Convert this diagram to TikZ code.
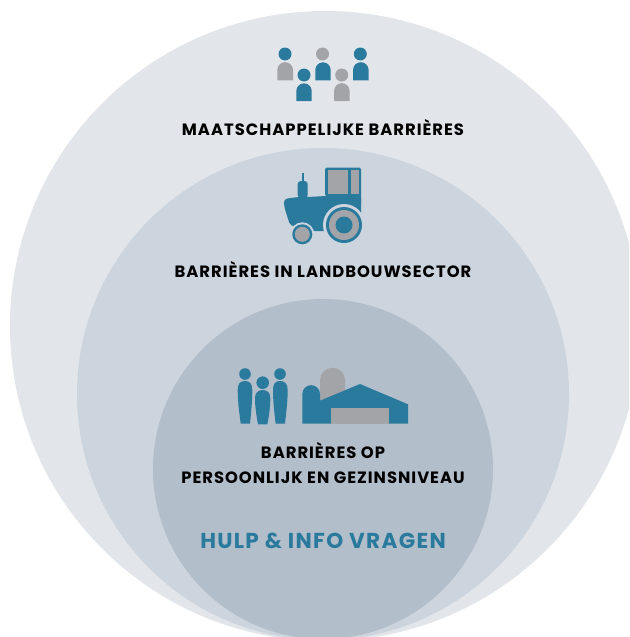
\documentclass[tikz,border=0pt]{standalone}
\usepackage{fontspec}
\setmainfont{Poppins}[LetterSpace=6]
\definecolor{outerc}{HTML}{E2E6EB}
\definecolor{middlec}{HTML}{CCD4DD}
\definecolor{innerc}{HTML}{B3BECB}
\definecolor{bluec}{HTML}{2A7A9E}
\definecolor{greyc}{HTML}{A3A4A8}
\begin{document}
\begin{tikzpicture}[x=1pt,y=-1pt,blue part/.style={fill=bluec},grey part/.style={fill=greyc},
  label text/.style={font=\bfseries\fontsize{16.4}{19}\selectfont,text=black,inner sep=0pt,align=center}]

\useasboundingbox (0,0) rectangle (629,637);
\clip (0,0) rectangle (629,637);

\fill [outerc] (325,326) circle (315);
\fill [middlec] (323,394) circle (246);
\fill [innerc] (323,469) circle (170);

\fill [blue part] (285,54) circle (6.5);
\fill [grey part] (277.3,80.3) -- (277.3,70) arc (180:360:7.85) -- (293,80.3) -- cycle;
\fill [blue part] (304,75) circle (6.5);
\fill [blue part] (296.3,101) -- (296.3,91) arc (180:360:7.7) -- (311.7,101) -- cycle;
\fill [grey part] (322.5,54) circle (6.5);
\fill [blue part] (315.3,80.3) -- (315.3,70) arc (180:360:7.7) -- (330.7,80.3) -- cycle;
\fill [grey part] (341.7,75) circle (6.5);
\fill [grey part] (334,101) -- (334,91) arc (180:360:7.8) -- (349.6,101) -- cycle;
\fill [blue part] (360.3,54) circle (6.5);
\fill [blue part] (353,80.3) -- (353,70) arc (180:360:7.8) -- (368.6,80.3) -- cycle;

\node [label text] (society) at (323,127.5) {MAATSCHAPPELIJKE BARRIÈRES};

\fill [blue part, rounded corners=1.5pt] (325,196) -- (325,167.7) -- (361,167.7) -- (361,205) -- cycle;
\fill [grey part] (327.5,170.3) rectangle (348.3,194.3);
\fill [grey part] (351,170.3) rectangle (359,194.3);
\fill [blue part] (301.5,173.3) rectangle (303.5,182);
\fill [blue part, rounded corners=3pt] (297.7,198) -- (297.7,181) -- (307.7,181) -- (307.7,198) -- cycle;
\fill [blue part, rounded corners=4pt] (283.5,199) -- (298,197) -- (308,197) -- (361,194) -- (361,225) -- (344,232) -- (322,231) -- (312,231) -- (296,226) -- (290.5,226.5) -- (284.5,208) -- cycle;
\fill [middlec] (344,225) circle (21);
\fill [middlec] (302.3,234.3) circle (12);
\fill [blue part] (344,225) circle (18);
\fill [grey part] (344,225) circle (15);
\fill [blue part] (344,225) circle (8.5);
\fill [blue part] (302.3,234.3) circle (10);
\fill [grey part] (302.3,234.3) circle (7.5);

\node [label text] (sector) at (323,269.5) {BARRIÈRES IN LANDBOUWSECTOR};

\fill [blue part] (245,374) circle (5.8);
\fill [blue part] (237.7,390) .. controls (237.7,384) and (240,381) .. (245,381) .. controls (250,381) and (252.3,384) .. (252.3,390) .. controls (252.3,402) and (251,414) .. (250,423.7) -- (240.7,423.7) .. controls (239.5,414) and (237.7,402) .. (237.7,390) -- cycle;
\fill [blue part] (262.7,382.7) circle (6.3);
\fill [blue part] (255,398) .. controls (255,393) and (258,390) .. (262.7,390) .. controls (267.5,390) and (270.3,393) .. (270.3,398) .. controls (270.3,407) and (269,416) .. (267.3,424.3) -- (258,424.3) .. controls (256.5,416) and (255,407) .. (255,398) -- cycle;
\fill [blue part] (280,374) circle (5.8);
\fill [blue part] (273,390) .. controls (273,384) and (275,381) .. (280,381) .. controls (285,381) and (287.7,384) .. (287.7,390) .. controls (287.7,402) and (286,414) .. (285,423.7) -- (275.7,423.7) .. controls (274.5,414) and (273,402) .. (273,390) -- cycle;

\fill [grey part] (320,405) -- (320,380.2) arc (180:360:12.5) -- (345,405) -- cycle;
\fill [blue part] (302.3,423.7) -- (302.3,394) arc (180:360:8.85) -- (320,400.7) -- (360,384) -- (408,404.3) -- (408,423.7) -- cycle;
\fill [grey part] (331,408) rectangle (389,423.7);

\node [label text] (family) at (323,450.5) {BARRIÈRES OP};
\node [label text] (level) at (323,477.5) {PERSOONLIJK EN GEZINSNIVEAU};
\node [label text,text=bluec,font=\bfseries\fontsize{21.6}{24}\selectfont] (help) at (323,541) {HULP \& INFO VRAGEN};

\end{tikzpicture}
\end{document}
